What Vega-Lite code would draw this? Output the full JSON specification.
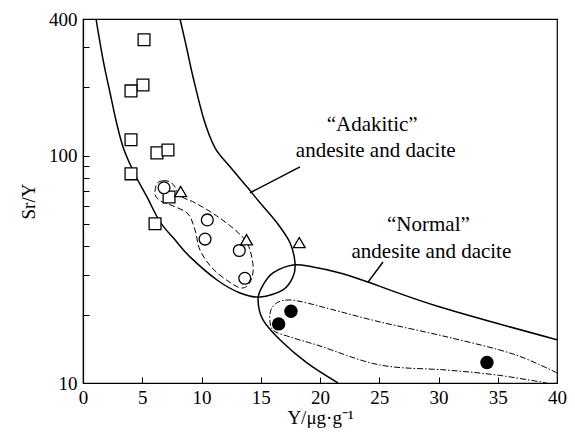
{
  "$schema": "https://vega.github.io/schema/vega-lite/v6.json",
  "width": 474,
  "height": 364,
  "autosize": {"type": "none"},
  "padding": {"left": 83, "top": 19, "right": 18, "bottom": 52},
  "background": "white",
  "config": {
    "font": "Liberation Serif",
    "view": {"stroke": "black", "strokeWidth": 1.2},
    "axis": {"grid": false, "domainColor": "black", "tickColor": "black", "labelColor": "black", "titleColor": "black", "labelFont": "Liberation Serif", "titleFont": "Liberation Serif", "titleFontWeight": "normal", "labelFontSize": 19, "titleFontSize": 19, "domainWidth": 1.2, "tickWidth": 1}
  },
  "datasets": {
    "lines": [
      {"c": "adakitic", "o": 1, "x": 1.10, "y": 400},
      {"c": "adakitic", "o": 2, "x": 1.69, "y": 265},
      {"c": "adakitic", "o": 3, "x": 2.28, "y": 189.5},
      {"c": "adakitic", "o": 4, "x": 2.87, "y": 137},
      {"c": "adakitic", "o": 5, "x": 3.46, "y": 106.3},
      {"c": "adakitic", "o": 6, "x": 4.39, "y": 82.5},
      {"c": "adakitic", "o": 7, "x": 5.40, "y": 65.9},
      {"c": "adakitic", "o": 8, "x": 6.50, "y": 51.2},
      {"c": "adakitic", "o": 9, "x": 7.76, "y": 42.7},
      {"c": "adakitic", "o": 10, "x": 9.03, "y": 35.9},
      {"c": "adakitic", "o": 11, "x": 11.31, "y": 28.4},
      {"c": "adakitic", "o": 12, "x": 13.25, "y": 24.9},
      {"c": "adakitic", "o": 13, "x": 14.94, "y": 23.9},
      {"c": "adakitic", "o": 14, "x": 16.88, "y": 25.7},
      {"c": "adakitic", "o": 15, "x": 17.72, "y": 29.3},
      {"c": "adakitic", "o": 16, "x": 17.89, "y": 33.8},
      {"c": "adakitic", "o": 17, "x": 17.47, "y": 41.4},
      {"c": "adakitic", "o": 18, "x": 16.37, "y": 50.7},
      {"c": "adakitic", "o": 19, "x": 14.94, "y": 62.1},
      {"c": "adakitic", "o": 20, "x": 13.84, "y": 73.0},
      {"c": "adakitic", "o": 21, "x": 12.41, "y": 89.4},
      {"c": "adakitic", "o": 22, "x": 11.14, "y": 108.4},
      {"c": "adakitic", "o": 23, "x": 10.21, "y": 144},
      {"c": "adakitic", "o": 24, "x": 9.28, "y": 222.8},
      {"c": "adakitic", "o": 25, "x": 8.78, "y": 293},
      {"c": "adakitic", "o": 26, "x": 8.19, "y": 400},
      {"c": "normal", "o": 1, "x": 21.52, "y": 10},
      {"c": "normal", "o": 2, "x": 18.90, "y": 12.25},
      {"c": "normal", "o": 3, "x": 16.62, "y": 15.5},
      {"c": "normal", "o": 4, "x": 15.19, "y": 18.95},
      {"c": "normal", "o": 5, "x": 14.77, "y": 23.2},
      {"c": "normal", "o": 6, "x": 15.11, "y": 26.5},
      {"c": "normal", "o": 7, "x": 16.03, "y": 30.5},
      {"c": "normal", "o": 8, "x": 17.72, "y": 33.1},
      {"c": "normal", "o": 9, "x": 19.41, "y": 32.4},
      {"c": "normal", "o": 10, "x": 21.69, "y": 30.5},
      {"c": "normal", "o": 11, "x": 23.97, "y": 27.9},
      {"c": "normal", "o": 12, "x": 30.13, "y": 21.6},
      {"c": "normal", "o": 13, "x": 40, "y": 15.5},
      {"c": "call1", "o": 1, "x": 14.09, "y": 68.7},
      {"c": "call1", "o": 2, "x": 18.31, "y": 89.4},
      {"c": "call2", "o": 1, "x": 24.05, "y": 27.8},
      {"c": "call2", "o": 2, "x": 25.32, "y": 34.1},
      {"c": "dash", "o": 1, "x": 6.24, "y": 75.3},
      {"c": "dash", "o": 2, "x": 6.75, "y": 77.6},
      {"c": "dash", "o": 3, "x": 7.34, "y": 76.8},
      {"c": "dash", "o": 4, "x": 7.76, "y": 73.0},
      {"c": "dash", "o": 5, "x": 8.19, "y": 66.6},
      {"c": "dash", "o": 6, "x": 9.45, "y": 62.1},
      {"c": "dash", "o": 7, "x": 11.14, "y": 55.0},
      {"c": "dash", "o": 8, "x": 12.83, "y": 47.2},
      {"c": "dash", "o": 9, "x": 13.84, "y": 41.4},
      {"c": "dash", "o": 10, "x": 14.26, "y": 35.5},
      {"c": "dash", "o": 11, "x": 14.35, "y": 30.8},
      {"c": "dash", "o": 12, "x": 14.01, "y": 27.3},
      {"c": "dash", "o": 13, "x": 13.33, "y": 26.2},
      {"c": "dash", "o": 14, "x": 12.24, "y": 28.1},
      {"c": "dash", "o": 15, "x": 10.89, "y": 32.1},
      {"c": "dash", "o": 16, "x": 9.87, "y": 38.5},
      {"c": "dash", "o": 17, "x": 9.45, "y": 47.2},
      {"c": "dash", "o": 18, "x": 8.86, "y": 55.5},
      {"c": "dash", "o": 19, "x": 7.59, "y": 60.2},
      {"c": "dash", "o": 20, "x": 6.50, "y": 63.4},
      {"c": "dash", "o": 21, "x": 6.08, "y": 68.0},
      {"c": "dashdot", "o": 1, "x": 40, "y": 11.07},
      {"c": "dashdot", "o": 2, "x": 36.29, "y": 13.42},
      {"c": "dashdot", "o": 3, "x": 30.72, "y": 15.95},
      {"c": "dashdot", "o": 4, "x": 25.06, "y": 18.57},
      {"c": "dashdot", "o": 5, "x": 20.84, "y": 21.18},
      {"c": "dashdot", "o": 6, "x": 18.90, "y": 22.5},
      {"c": "dashdot", "o": 7, "x": 17.47, "y": 23.2},
      {"c": "dashdot", "o": 8, "x": 16.46, "y": 22.7},
      {"c": "dashdot", "o": 9, "x": 15.86, "y": 21.0},
      {"c": "dashdot", "o": 10, "x": 15.78, "y": 18.57},
      {"c": "dashdot", "o": 11, "x": 16.12, "y": 16.95},
      {"c": "dashdot", "o": 12, "x": 17.47, "y": 15.95},
      {"c": "dashdot", "o": 13, "x": 20.0, "y": 14.55},
      {"c": "dashdot", "o": 14, "x": 25.06, "y": 12.0},
      {"c": "dashdot", "o": 15, "x": 30.72, "y": 11.4},
      {"c": "dashdot", "o": 16, "x": 34.94, "y": 10.84},
      {"c": "dashdot", "o": 17, "x": 39.16, "y": 10.0}
    ],
    "points": [
      {"t": "square", "x": 5.15, "y": 324},
      {"t": "square", "x": 5.06, "y": 205},
      {"t": "square", "x": 4.05, "y": 193},
      {"t": "square", "x": 4.05, "y": 117.6},
      {"t": "square", "x": 6.24, "y": 103},
      {"t": "square", "x": 7.17, "y": 106},
      {"t": "square", "x": 4.05, "y": 83.3},
      {"t": "square", "x": 7.26, "y": 65.9},
      {"t": "square", "x": 6.08, "y": 50.2},
      {"t": "circle", "x": 6.84, "y": 72.3},
      {"t": "circle", "x": 10.49, "y": 52.2},
      {"t": "circle", "x": 10.30, "y": 43.0},
      {"t": "circle", "x": 13.19, "y": 38.3},
      {"t": "circle", "x": 13.65, "y": 28.9},
      {"t": "triangle-up", "x": 8.24, "y": 69.6},
      {"t": "triangle-up", "x": 13.8, "y": 42.7},
      {"t": "triangle-up", "x": 18.25, "y": 41.5}
    ],
    "filled": [
      {"x": 17.55, "y": 20.7},
      {"x": 16.51, "y": 18.2},
      {"x": 34.09, "y": 12.3}
    ],
    "labels": [
      {"text": "“Adakitic”", "x": 24.4, "y": 137},
      {"text": "andesite and dacite", "x": 24.7, "y": 104.5},
      {"text": "“Normal”", "x": 29.15, "y": 49.8},
      {"text": "andesite and dacite", "x": 29.4, "y": 37.8}
    ]
  },
  "encoding": {
    "x": {"field": "x", "type": "quantitative", "scale": {"domain": [0, 40], "nice": false, "zero": false},
      "axis": {"values": [0, 5, 10, 15, 20, 25, 30, 35, 40], "tickSize": -6, "labelPadding": 11, "title": "Y/μg·g⁻¹", "titlePadding": 1, "labelFlush": false}},
    "y": {"field": "y", "type": "quantitative", "scale": {"type": "log", "domain": [10, 400], "nice": false},
      "axis": {"values": [10, 20, 30, 40, 50, 60, 70, 80, 90, 100, 200, 300, 400], "tickSize": -6, "labelPadding": 12, "labelExpr": "indexof([10,100,400], datum.value) >= 0 ? format(datum.value, 'd') : ''", "title": "Sr/Y", "titlePadding": 10, "labelFlush": false}}
  },
  "layer": [
    {
      "data": {"name": "lines"},
      "transform": [{"filter": "datum.c == 'adakitic' || datum.c == 'normal' || datum.c == 'call1' || datum.c == 'call2'"}],
      "mark": {"type": "line", "interpolate": "cardinal", "color": "black", "strokeWidth": 1.5, "clip": true},
      "encoding": {"detail": {"field": "c"}, "order": {"field": "o", "type": "quantitative"}}
    },
    {
      "data": {"name": "lines"},
      "transform": [{"filter": "datum.c == 'dash'"}],
      "mark": {"type": "line", "interpolate": "cardinal-closed", "color": "black", "strokeWidth": 1, "strokeDash": [6, 3], "clip": true},
      "encoding": {"order": {"field": "o", "type": "quantitative"}}
    },
    {
      "data": {"name": "lines"},
      "transform": [{"filter": "datum.c == 'dashdot'"}],
      "mark": {"type": "line", "interpolate": "cardinal", "color": "black", "strokeWidth": 1, "strokeDash": [6, 2, 1.5, 2], "clip": true},
      "encoding": {"order": {"field": "o", "type": "quantitative"}}
    },
    {
      "data": {"name": "points"},
      "mark": {"type": "point", "filled": false, "stroke": "black", "strokeWidth": 1.3, "fill": "white", "fillOpacity": 1, "opacity": 1, "size": 140},
      "encoding": {"shape": {"field": "t", "type": "nominal", "scale": {"domain": ["square", "circle", "triangle-up"], "range": ["square", "circle", "triangle-up"]}, "legend": null}}
    },
    {
      "data": {"name": "filled"},
      "mark": {"type": "point", "shape": "circle", "filled": true, "color": "black", "opacity": 1, "size": 180}
    },
    {
      "data": {"name": "labels"},
      "mark": {"type": "text", "font": "Liberation Serif", "fontSize": 21, "color": "black", "align": "center", "baseline": "middle"},
      "encoding": {"text": {"field": "text"}}
    }
  ]
}
